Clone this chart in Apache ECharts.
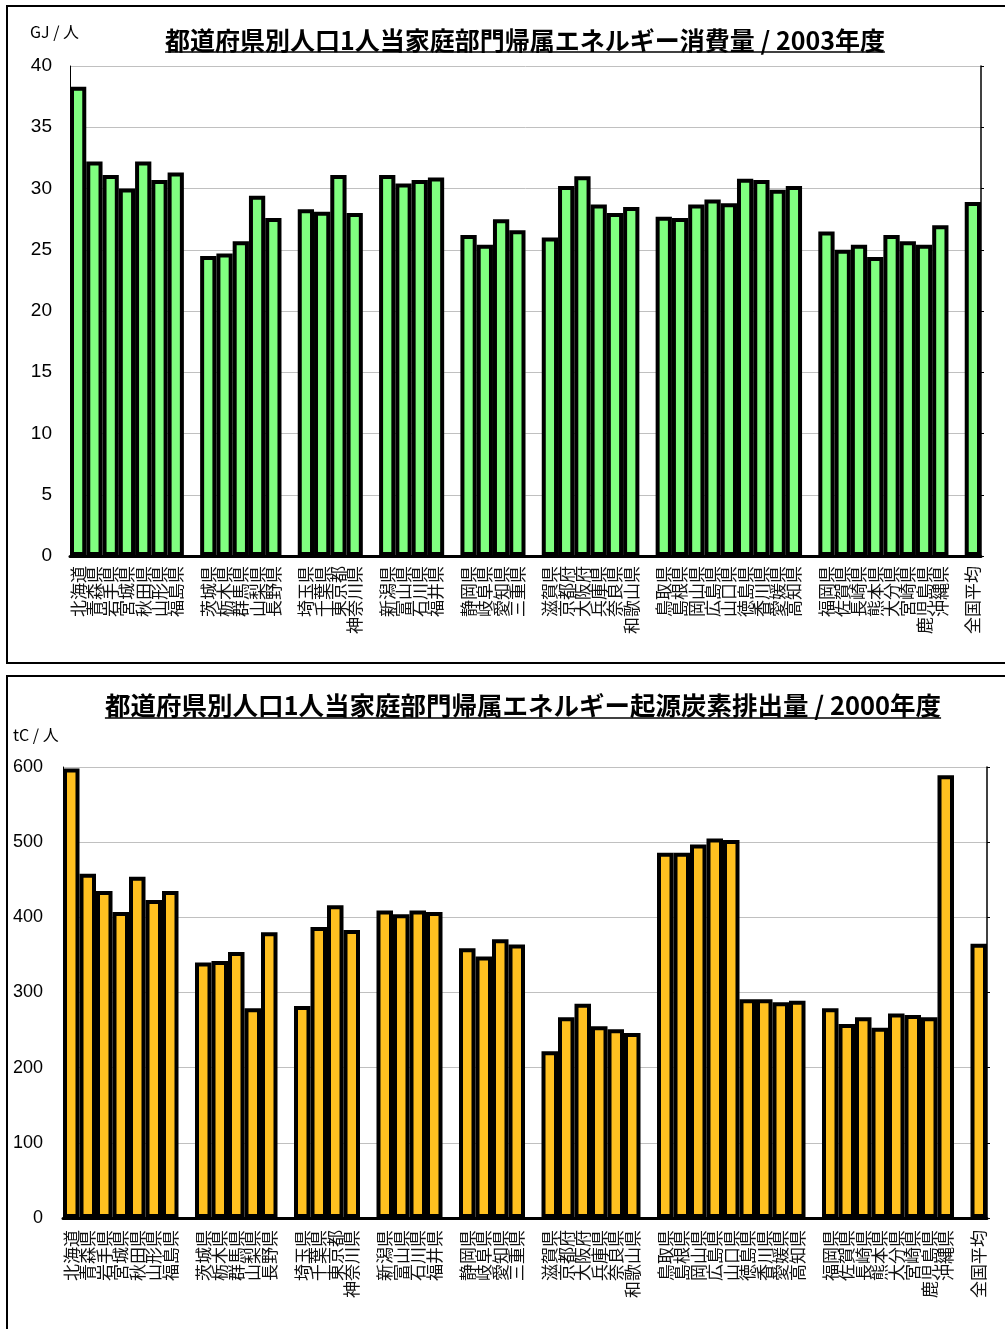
<!DOCTYPE html>
<html><head><meta charset="utf-8">
<script src="https://cdn.jsdelivr.net/npm/echarts@6/dist/echarts.min.js"></script>
<style>html,body{margin:0;padding:0;background:#fff}#c{width:1005px;height:1329px}</style>
</head><body><div id="c"></div>
<script>
const prefectures = ['北海道','青森県','岩手県','宮城県','秋田県','山形県','福島県',
  '茨城県','栃木県','群馬県','山梨県','長野県',
  '埼玉県','千葉県','東京都','神奈川県',
  '新潟県','富山県','石川県','福井県',
  '静岡県','岐阜県','愛知県','三重県',
  '滋賀県','京都府','大阪府','兵庫県','奈良県','和歌山県',
  '鳥取県','島根県','岡山県','広島県','山口県','徳島県','香川県','愛媛県','高知県',
  '福岡県','佐賀県','長崎県','熊本県','大分県','宮崎県','鹿児島県','沖縄県',
  '全国平均'];
const groupSizes = [7,5,4,4,4,6,9,8,1];
const energy2003 = [38.3,32.2,31.1,30.0,32.2,30.7,31.3,
  24.5,24.7,25.7,29.4,27.6,
  28.3,28.1,31.1,28.0,
  31.1,30.4,30.7,30.9,
  26.2,25.4,27.5,26.6,
  26.0,30.2,31.0,28.7,28.0,28.5,
  27.7,27.6,28.7,29.1,28.8,30.8,30.7,29.9,30.2,
  26.5,25.0,25.4,24.4,26.2,25.7,25.4,27.0,
  28.9];
const carbon2000 = [598,458,435,407,454,423,435,
  340,342,354,279,380,
  282,387,416,383,
  409,404,409,407,
  359,348,371,364,
  222,267,285,255,251,246,
  486,486,497,505,503,291,291,287,289,
  279,258,267,253,272,270,267,589,
  365];
const energyTicks = {min:0, max:40, interval:5};
const carbonTicks = {min:0, max:600, interval:100};
const titleTop = '都道府県別人口1人当家庭部門帰属エネルギー消費量 / 2003年度';
const titleBottom = '都道府県別人口1人当家庭部門帰属エネルギー起源炭素排出量 / 2000年度';
const unitTop = 'GJ / 人';
const unitBottom = 'tC / 人';

function withGaps(arr, blankFn) {
  const out = []; let i = 0;
  groupSizes.forEach((n, g) => {
    if (g > 0) out.push(blankFn(g));
    for (let k = 0; k < n; k++) out.push(arr[i++]);
  });
  return out;
}
const cats = withGaps(prefectures, g => 'gap' + g);
const energyData = withGaps(energy2003, () => null);
const carbonData = withGaps(carbon2000, () => null);

const jp = '"Noto Sans CJK JP", sans-serif';
const latin = '"Liberation Sans", Arial, sans-serif';

function measure(text, font) {
  const c = document.createElement('canvas').getContext('2d');
  c.font = font; return c.measureText(text).width;
}
const tFontTop = 'bold 25px "Noto Sans CJK JP"';
const tFontBot = 'bold 25.5px "Noto Sans CJK JP"';
const wTop = measure(titleTop, tFontTop);
const wBot = measure(titleBottom, tFontBot);
const cxTop = 525, cxBot = 523;

function xAxisFor(gi, margin) {
  return {
    type: 'category', gridIndex: gi, data: cats,
    axisLine: {show: true, lineStyle: {color: '#000', width: 3}},
    axisTick: {show: false},
    axisLabel: {interval: 0, rotate: 90, margin: margin, fontFamily: jp, fontSize: 17, color: '#111',
      formatter: v => v.indexOf('gap') === 0 ? '' : v},
    splitLine: {show: false}
  };
}
function yLeft(gi, t, fs, margin) {
  return {
    type: 'value', gridIndex: gi, position: 'left', min: t.min, max: t.max, interval: t.interval,
    axisLine: {show: true, lineStyle: {color: '#000', width: 1}},
    axisTick: {show: false},
    axisLabel: {fontFamily: latin, fontSize: fs, color: '#000', margin: margin},
    splitLine: {show: true, lineStyle: {color: '#c0c0c0', width: 1}}
  };
}
function yRight(gi, t) {
  return {
    type: 'value', gridIndex: gi, position: 'right', min: t.min, max: t.max, interval: t.interval,
    axisLine: {show: true, lineStyle: {color: '#000', width: 1.5}},
    axisTick: {show: true, inside: false, length: 3, lineStyle: {color: '#000'}},
    axisLabel: {show: false},
    splitLine: {show: false}
  };
}
const barStyle = color => ({color: color, borderColor: '#000', borderWidth: 4});

const chart = echarts.init(document.getElementById('c'), null, {renderer: 'canvas'});
chart.setOption({
  animation: false,
  backgroundColor: '#fff',
  grid: [
    {left: 70, top: 66, width: 911, height: 490},
    {left: 63, top: 767, width: 924, height: 451}
  ],
  xAxis: [xAxisFor(0, 10), xAxisFor(1, 12)],
  yAxis: [yLeft(0, energyTicks, 19, 18), yRight(0, energyTicks), yLeft(1, carbonTicks, 18, 20), yRight(1, carbonTicks)],
  series: [
    {type: 'bar', xAxisIndex: 0, yAxisIndex: 0, data: energyData, barCategoryGap: '0%', itemStyle: barStyle('#80ff80')},
    {type: 'bar', xAxisIndex: 1, yAxisIndex: 2, data: carbonData, barCategoryGap: '0%', itemStyle: barStyle('#ffc020')}
  ],
  graphic: [
    {type: 'rect', shape: {x: 7, y: 6, width: 1010, height: 657}, style: {fill: null, stroke: '#000', lineWidth: 2}, z: 100},
    {type: 'rect', shape: {x: 7, y: 676, width: 1010, height: 700}, style: {fill: null, stroke: '#000', lineWidth: 2}, z: 100},
    {type: 'text', x: 30, y: 32, style: {text: unitTop, font: '16px ' + jp, fill: '#000', textVerticalAlign: 'middle'}, z: 100},
    {type: 'text', x: 13, y: 735, style: {text: unitBottom, font: '16px ' + jp, fill: '#000', textVerticalAlign: 'middle'}, z: 100},
    {type: 'text', x: cxTop, y: 40, style: {text: titleTop, font: tFontTop, fill: '#000', textAlign: 'center', textVerticalAlign: 'middle'}, z: 100},
    {type: 'line', shape: {x1: cxTop - wTop / 2, y1: 52, x2: cxTop + wTop / 2, y2: 52}, style: {stroke: '#000', lineWidth: 1.5}, z: 100},
    {type: 'text', x: cxBot, y: 705, style: {text: titleBottom, font: tFontBot, fill: '#000', textAlign: 'center', textVerticalAlign: 'middle'}, z: 100},
    {type: 'line', shape: {x1: cxBot - wBot / 2, y1: 718, x2: cxBot + wBot / 2, y2: 718}, style: {stroke: '#000', lineWidth: 1.5}, z: 100}
  ]
});
</script></body></html>
